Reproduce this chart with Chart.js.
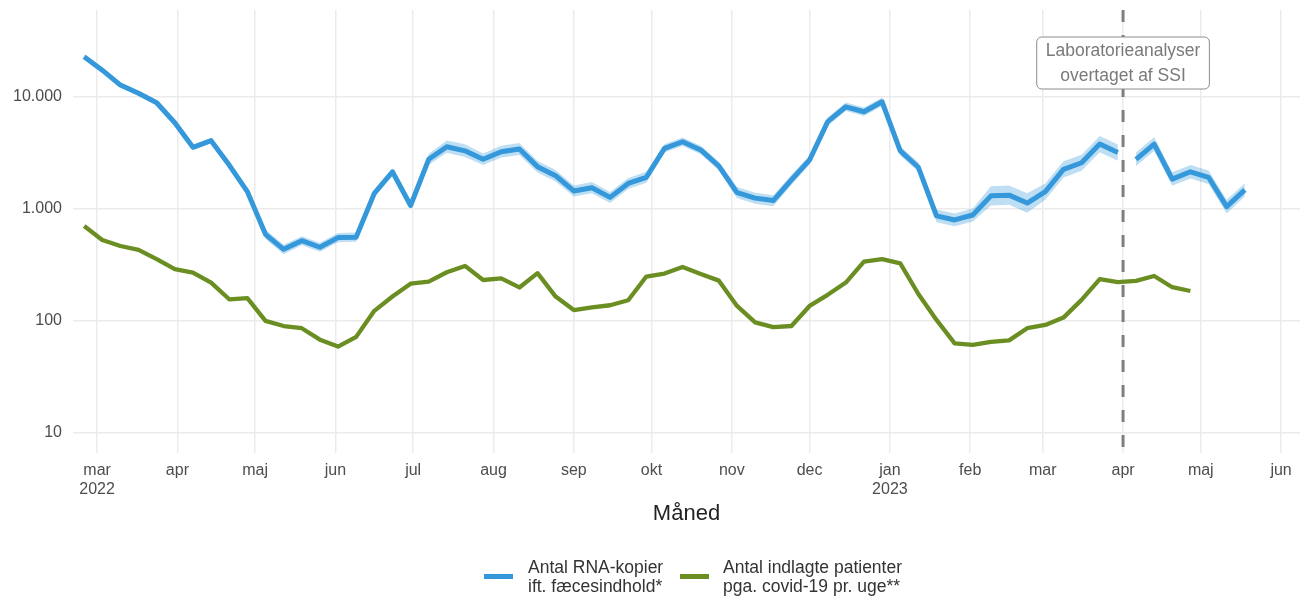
<!DOCTYPE html>
<html>
<head>
<meta charset="utf-8">
<script src="https://cdn.jsdelivr.net/npm/chart.js@4.4.1/dist/chart.umd.min.js"></script>
<style>
  html, body { margin: 0; padding: 0; background: #ffffff; }
  #wrap { position: relative; width: 1300px; height: 598px; font-family: "Liberation Sans", Arial, sans-serif; }
  #c { position: absolute; left: 0; top: 0; }
  .sw { position: absolute; height: 5px; width: 29px; }
  .lt { position: absolute; font-size: 17.5px; line-height: 19px; color: #333333; white-space: nowrap; }
</style>
</head>
<body>
<div id="wrap">
  <canvas id="c" width="1300" height="598"></canvas>
  <div class="sw" style="left:484px;top:573.5px;background:#3498db"></div>
  <div class="lt" style="left:528px;top:558px">Antal RNA-kopier<br>ift. fæcesindhold*</div>
  <div class="sw" style="left:680px;top:573.5px;background:#6b8e23"></div>
  <div class="lt" style="left:723px;top:558px">Antal indlagte patienter<br>pga. covid-19 pr. uge**</div>
</div>
<script>
// ---------- DATA ----------
const weeks = [
  "2022-02-24","2022-03-03","2022-03-10","2022-03-17","2022-03-24","2022-03-31","2022-04-07","2022-04-14",
  "2022-04-21","2022-04-28","2022-05-05","2022-05-12","2022-05-19","2022-05-26","2022-06-02","2022-06-09",
  "2022-06-16","2022-06-23","2022-06-30","2022-07-07","2022-07-14","2022-07-21","2022-07-28","2022-08-04",
  "2022-08-11","2022-08-18","2022-08-25","2022-09-01","2022-09-08","2022-09-15","2022-09-22","2022-09-29",
  "2022-10-06","2022-10-13","2022-10-20","2022-10-27","2022-11-03","2022-11-10","2022-11-17","2022-11-24",
  "2022-12-01","2022-12-08","2022-12-15","2022-12-22","2022-12-29","2023-01-05","2023-01-12","2023-01-19",
  "2023-01-26","2023-02-02","2023-02-09","2023-02-16","2023-02-23","2023-03-02","2023-03-09","2023-03-16",
  "2023-03-23","2023-03-30","2023-04-06","2023-04-13","2023-04-20","2023-04-27","2023-05-04","2023-05-11",
  "2023-05-18"
];
// RNA copies relative to faecal content (weekly)
const rnaCopies = [
  22900,17400,12800,10800,8900,5900,3560,4080,2470,1430,
  594,436,521,455,555,560,
  1380,2150,1075,
  2780,3600,3310,2780,3250,3440,2390,1980,
  1450,1550,1270,1690,1920,
  3480,3990,3370,2420,
  1400,1250,1190,1820,
  2740,6030,8190,7390,9080,
  3310,2360,
  867,798,884,
  1310,1330,1130,
  1430,2260,2590,3800,3190,
  2780,3800,1850,2150,1920,1050,1480
];
const rnaLow = [
  21800,16600,12200,10300,8480,5620,3390,3890,2350,1360,
  540,395,475,415,505,510,
  1290,2010,1005,
  2480,3180,2920,2470,2880,3040,2120,1760,
  1290,1380,1130,1510,1720,
  3190,3660,3090,2220,
  1250,1115,1060,1640,
  2510,5530,7510,6780,8330,
  3010,2150,
  760,700,775,
  1075,1090,925,
  1210,1915,2195,3220,2700,
  2420,3300,1610,1870,1670,910,1290
];
const rnaHigh = [
  24000,18300,13400,11300,9350,6200,3740,4280,2590,1500,
  655,480,572,500,610,615,
  1475,2300,1150,
  3120,4100,3780,3130,3670,3890,2690,2230,
  1620,1740,1420,1890,2150,
  3790,4350,3670,2640,
  1570,1400,1330,2020,
  2990,6570,8930,8060,9900,
  3640,2600,
  990,910,1010,
  1600,1620,1380,
  1690,2670,3060,4480,3760,
  3200,4370,2130,2470,2210,1210,1700
];
// Hospitalised patients due to covid-19 per week (first 62 weeks)
const admissions = [
  705,528,467,431,356,290,270,220,156,160,
  100,90,86,68,59,72,123,165,215,224,
  272,310,232,240,199,267,165,125,132,138,
  153,249,265,303,263,229,136,97,88,90,
  136,171,220,339,356,327,174,102,63,61,
  65,67,86,92,107,154,236,222,228,252,
  200,185
];
const labChange = "2023-04-01";
const labText = ["Laboratorieanalyser", "overtaget af SSI"];
const monthStarts = ["2022-03-01","2022-04-01","2022-05-01","2022-06-01","2022-07-01","2022-08-01","2022-09-01",
  "2022-10-01","2022-11-01","2022-12-01","2023-01-01","2023-02-01","2023-03-01","2023-04-01","2023-05-01","2023-06-01"];
const monthLabels = [["mar","2022"],"apr","maj","jun","jul","aug","sep","okt","nov","dec",["jan","2023"],"feb","mar","apr","maj","jun"];
const yTicks = [10, 100, 1000, 10000];
const yTickLabels = ["10", "100", "1.000", "10.000"];
const xRange = ["2022-02-19", "2023-06-08"];

// ---------- HELPERS ----------
function day(s) { return Date.UTC(+s.slice(0,4), +s.slice(5,7) - 1, +s.slice(8,10)) / 864e5; }
const labDay = day(labChange);
function pts(vals, before) {
  const out = [];
  vals.forEach((v, i) => {
    const d = day(weeks[i]);
    if ((d < labDay) === before) out.push({ x: d, y: v });
  });
  return out;
}
const BLUE = "#3498db", GREEN = "#6b8e23", BAND = "rgba(52,152,219,0.32)";
const FONT = '"Liberation Sans", Arial, sans-serif';

const bandDs = (data, fillTarget) => ({
  data, fill: fillTarget, backgroundColor: BAND, borderWidth: 0, pointRadius: 0, tension: 0, order: 5
});
const lineDs = (data, color, w) => ({
  data, borderColor: color, borderWidth: w, pointRadius: 0, fill: false, tension: 0,
  borderJoinStyle: "round", borderCapStyle: "butt", order: 1
});

const datasets = [
  bandDs(pts(rnaHigh, true), 1),
  bandDs(pts(rnaLow, true), false),
  bandDs(pts(rnaHigh, false), 3),
  bandDs(pts(rnaLow, false), false),
  lineDs(pts(rnaCopies, true), BLUE, 5),
  lineDs(pts(rnaCopies, false), BLUE, 5),
  lineDs(admissions.map((v, i) => ({ x: day(weeks[i]), y: v })), GREEN, 4.3)
];

const labPlugin = {
  id: "labChange",
  afterDatasetsDraw(chart) {
    const { ctx, chartArea, scales } = chart;
    const px = scales.x.getPixelForValue(labDay);
    ctx.save();
    ctx.strokeStyle = "#7f7f7f";
    ctx.lineWidth = 3;
    ctx.setLineDash([12, 13]);
    ctx.beginPath();
    ctx.moveTo(px, chartArea.top);
    ctx.lineTo(px, chartArea.bottom);
    ctx.stroke();
    ctx.setLineDash([]);
    ctx.font = "17.5px " + FONT;
    const tw = Math.max(...labText.map(t => ctx.measureText(t).width));
    const bw = tw + 18, bh = 52;
    const bx = px - bw / 2, by = chartArea.top + 27;
    ctx.beginPath();
    ctx.roundRect(bx, by, bw, bh, 5);
    ctx.fillStyle = "#ffffff";
    ctx.fill();
    ctx.strokeStyle = "#8c8c8c";
    ctx.lineWidth = 1;
    ctx.stroke();
    ctx.fillStyle = "#7a7a7a";
    ctx.textAlign = "center";
    ctx.textBaseline = "middle";
    ctx.fillText(labText[0], px, by + 14.5);
    ctx.fillText(labText[1], px, by + 39.5);
    ctx.restore();
  }
};

new Chart(document.getElementById("c"), {
  type: "line",
  data: { datasets },
  plugins: [labPlugin],
  options: {
    responsive: false,
    animation: false,
    devicePixelRatio: 1,
    layout: { padding: { top: 10, right: 0, bottom: 63, left: 0 } },
    plugins: { legend: { display: false }, tooltip: { enabled: false } },
    scales: {
      x: {
        type: "linear",
        min: day(xRange[0]) + 0.7,
        max: day(xRange[1]) + 0.3,
        afterBuildTicks: s => { s.ticks = monthStarts.map(m => ({ value: day(m) })); },
        afterFit: s => { s.height = 82; s.paddingLeft = 0; s.paddingRight = 0; },
        ticks: {
          autoSkip: false, maxRotation: 0, padding: 8, color: "#4d4d4d",
          font: { size: 16, family: FONT, lineHeight: 1.2 },
          callback: (v, i) => monthLabels[i]
        },
        grid: { color: "#ebebeb", lineWidth: 1.5, drawTicks: false },
        border: { display: false },
        title: {
          display: true, text: "Måned", color: "#222222",
          font: { size: 22, family: FONT, lineHeight: 1.2 },
          padding: { top: 0, bottom: 8 }
        }
      },
      y: {
        type: "logarithmic",
        min: 6.6, max: 60000,
        afterBuildTicks: s => { s.ticks = yTicks.map(v => ({ value: v })); },
        afterFit: s => { s.width = 73; s.paddingTop = 0; s.paddingBottom = 0; },
        ticks: {
          padding: 11, color: "#4d4d4d",
          font: { size: 16, family: FONT },
          callback: (v, i) => yTickLabels[i]
        },
        grid: { color: "#ebebeb", lineWidth: 1.5, drawTicks: false },
        border: { display: false }
      }
    }
  }
});
</script>
</body>
</html>
